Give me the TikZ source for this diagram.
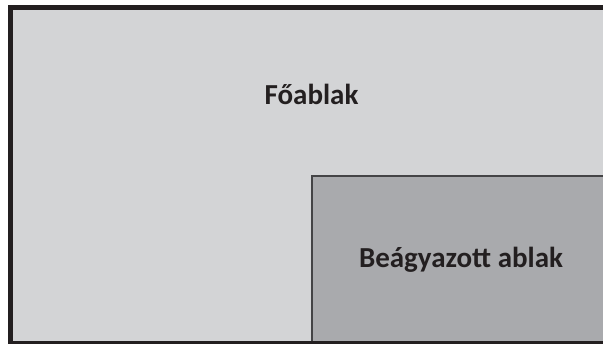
\documentclass[tikz,border=0pt]{standalone}
\usepackage{fontspec}
\setmainfont{Carlito}
\usetikzlibrary{positioning}
\definecolor{mainfill}{RGB}{211,212,214}
\definecolor{subfill}{RGB}{169,170,173}
\definecolor{subline}{RGB}{68,68,70}
\definecolor{inkblack}{RGB}{35,31,32}

\begin{document}
\begin{tikzpicture}[x=1pt,y=1pt,
    label text/.style={font=\fontsize{29}{34}\selectfont\bfseries, text=inkblack, anchor=base, inner sep=0pt}]
    \useasboundingbox (0,0) rectangle (603,344);
    \clip (0,0) rectangle (603,344);

    % Main window background
    \fill[mainfill] (10.5,0.5) rectangle (610,336.5);

    % Embedded window
    \draw[line width=2pt, subline, fill=subfill] (312,-5) rectangle (615,168);

    % Main window border
    \draw[line width=5pt, inkblack] (10.5,0.5) rectangle (610,336.5);

    % Labels
    \node[label text] (fo) at (311.5,239) {Főablak};
    \node[label text] (beagy) at (461,76) {Beágyazott ablak};
\end{tikzpicture}
\end{document}
